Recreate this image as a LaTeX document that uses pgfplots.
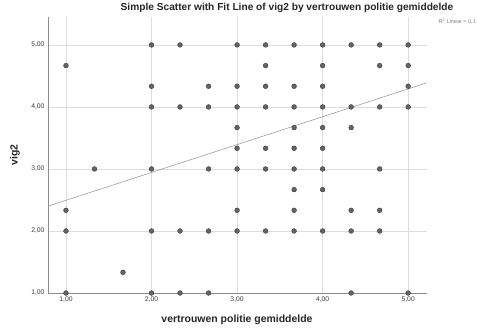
\documentclass[border=0pt]{standalone}
\usepackage{pgfplots}
\pgfplotsset{compat=1.18}
\usepackage{fontspec}
\setmainfont{Liberation Sans}
\definecolor{gridc}{HTML}{DCDCDC}
\definecolor{axc}{HTML}{8C8C8C}
\definecolor{ptfill}{HTML}{646464}
\definecolor{ptedge}{HTML}{3A3A3A}
\definecolor{txt}{HTML}{3C3C3C}
\begin{document}
\begin{tikzpicture}
\begin{axis}[
  name=ax,
  scale only axis,
  width=379bp, height=276bp,
  xmin=0.79, xmax=5.22, ymin=1, ymax=5.45,
  axis x line*=bottom, axis y line*=left,
  axis line style={axc, line width=0.6pt, -},
  xtick={1,2,3,4,5}, ytick={1,2,3,4,5},
  grid=major,
  major grid style={gridc, line width=0.7pt},
  major tick length=0pt,
  tick label style={font=\fontsize{6.8}{7}\selectfont, text=txt},
  /pgf/number format/assume math mode=true,
  /pgf/number format/.cd, fixed, fixed zerofill, precision=2, use comma,
]
\addplot[only marks, mark=*, mark size=2.4bp, mark options={fill=ptfill, draw=ptedge, line width=0.4pt}] table {
x y
1 4.6667
1 2.3333
1 2
1 1
1.3333 3
1.6667 1.3333
2 5
2 4.3333
2 4
2 3
2 2
2 1
2.3333 5
2.3333 4
2.3333 2
2.3333 1
2.6667 4.3333
2.6667 4
2.6667 3
2.6667 2
2.6667 1
3 5
3 4.3333
3 4
3 3.6667
3 3.3333
3 3
3 2.3333
3 2
3.3333 5
3.3333 4.6667
3.3333 4.3333
3.3333 4
3.3333 3.3333
3.3333 3
3.3333 2
3.6667 5
3.6667 4.3333
3.6667 4
3.6667 3.6667
3.6667 3.3333
3.6667 3
3.6667 2.6667
3.6667 2.3333
3.6667 2
4 5
4 4.6667
4 4.3333
4 4
4 3.6667
4 3.3333
4 3
4 2.6667
4 2
4.3333 5
4.3333 4
4.3333 3.6667
4.3333 2.3333
4.3333 2
4.3333 1
4.6667 5
4.6667 4.6667
4.6667 4
4.6667 3
4.6667 2.3333
4.6667 2
5 5
5 4.6667
5 4.3333
5 4
5 1
};
\addplot[color=axc!85!white, line width=0.6pt] coordinates {(0.79,2.40) (5.22,4.39)};
\end{axis}
\node[font=\bfseries\fontsize{10.2}{12}\selectfont, text=black!85] at ([shift={(239bp,285bp)}]ax.south west) {Simple Scatter with Fit Line of vig2 by vertrouwen politie gemiddelde};
\node[font=\bfseries\fontsize{10.5}{12}\selectfont, text=black!85, rotate=90] at ([shift={(-33bp,138bp)}]ax.south west) {vig2};
\node[font=\bfseries\fontsize{10.5}{12}\selectfont, text=black!85] at ([shift={(189bp,-27bp)}]ax.south west) {vertrouwen politie gemiddelde};
\node[font=\fontsize{5.5}{6}\selectfont, text=gray, anchor=east, inner sep=0pt] at ([shift={(428bp,271bp)}]ax.south west) {R\textsuperscript{2} Linear = 0,1};
\pgfresetboundingbox
\path[use as bounding box] ([shift={(-48bp,-38bp)}]ax.south west) rectangle ([shift={(429bp,293bp)}]ax.south west);
\end{tikzpicture}
\end{document}
